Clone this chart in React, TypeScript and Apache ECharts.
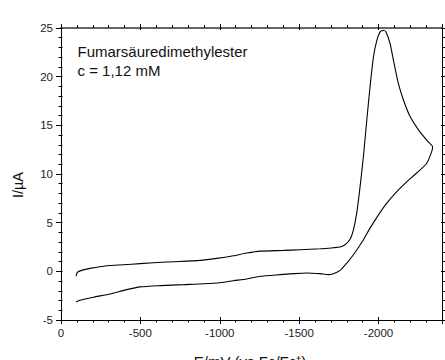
import React, { useEffect, useRef } from "react";
import * as echarts from "echarts";

// Potential (mV vs Fc/Fc+) and current (µA), cathodic scan then return scan
const forwardE = [-95, -103, -130, -183, -288, -393, -498, -666, -876, -981, -1086, -1170, -1254, -1400, -1506, -1632, -1716, -1758, -1789, -1821, -1842, -1863, -1884, -1905, -1926, -1947, -1968, -1989, -2010, -2031, -2047, -2073, -2094, -2125, -2157, -2199, -2262, -2314, -2341];
const forwardI = [-0.5, -0.1, 0.1, 0.3, 0.58, 0.68, 0.79, 0.96, 1.13, 1.33, 1.6, 1.88, 2.08, 2.15, 2.22, 2.32, 2.43, 2.5, 2.73, 3.3, 4.27, 6.0, 8.7, 11.8, 15.5, 19.0, 22.0, 23.7, 24.6, 24.77, 24.6, 23.4, 21.7, 19.3, 17.6, 15.9, 14.3, 13.3, 12.8];
const reverseE = [-2335, -2304, -2241, -2178, -2115, -2052, -2000, -1947, -1905, -1842, -1800, -1758, -1716, -1684, -1632, -1548, -1464, -1380, -1254, -1170, -1086, -981, -771, -624, -498, -414, -309, -204, -120, -95];
const reverseI = [12.3, 11.1, 10.1, 9.2, 8.2, 7.0, 5.8, 4.44, 3.25, 1.7, 0.85, 0.1, -0.24, -0.34, -0.24, -0.17, -0.24, -0.34, -0.51, -0.79, -0.96, -1.2, -1.37, -1.47, -1.6, -1.88, -2.32, -2.66, -2.97, -3.14];

const xMin = 0;
const xMax = 2400;
const xMajor = 500;
const xMinor = 100;
const yMin = -5;
const yMax = 25;
const yMajor = 5;
const yMinor = 1;

const FONT = "'Liberation Sans', Arial, sans-serif";

export default function App() {
  const ref = useRef<HTMLDivElement>(null);
  useEffect(() => {
    if (!ref.current) return;
    const chart = echarts.init(ref.current, undefined, { renderer: "svg" });
    const data: number[][] = [];
    forwardE.forEach((e, k) => data.push([-e, forwardI[k]]));
    reverseE.forEach((e, k) => data.push([-e, reverseI[k]]));

    const gridBox = { left: 61, right: 3, top: 28, bottom: 40 };

    const ax = (
      kind: "x" | "y",
      gridIndex: number,
      position: string,
      interval: number,
      tickLen: number,
      inside: boolean,
      line: any,
      label: any
    ) => ({
      type: "value",
      gridIndex,
      position,
      min: kind === "x" ? xMin : yMin,
      max: kind === "x" ? xMax : yMax,
      interval,
      splitLine: { show: false },
      axisLine: line
        ? { show: true, onZero: false, lineStyle: line }
        : { show: false, onZero: false },
      axisTick: { show: true, inside, length: tickLen, lineStyle: { color: "#000", width: 1 } },
      axisLabel: label || { show: false },
    });

    const xLabel = {
      margin: 7,
      color: "#222",
      fontSize: 11.5,
      fontFamily: FONT,
      formatter: (v: number) => (v % xMajor !== 0 ? "" : v === 0 ? "0" : String(-v)),
    };
    const yLabel = { margin: 8, color: "#222", fontSize: 11.5, fontFamily: FONT };

    chart.setOption({
      animation: false,
      grid: [gridBox, gridBox, gridBox],
      xAxis: [
        ax("x", 0, "bottom", xMajor, 4, false, { color: "#000", width: 1 }, xLabel),
        ax("x", 0, "top", xMajor, 4, false, { color: "#666", width: 2 }, null),
        ax("x", 1, "bottom", xMinor, 2.5, false, null, null),
        ax("x", 1, "top", xMinor, 3, false, null, null),
        ax("x", 2, "bottom", xMajor, 3, true, null, null),
        ax("x", 2, "top", xMajor, 2, true, null, null),
      ],
      yAxis: [
        ax("y", 0, "left", yMajor, 5, false, { color: "#000", width: 1 }, yLabel),
        ax("y", 0, "right", yMajor, 3, false, { color: "#000", width: 1 }, null),
        ax("y", 1, "left", yMinor, 2.5, false, null, null),
        ax("y", 1, "right", yMinor, 3, false, null, null),
        ax("y", 2, "left", yMinor, 1.5, true, null, null),
        ax("y", 2, "right", yMajor, 1, true, null, null),
      ],
      series: [
        {
          type: "line",
          xAxisIndex: 0,
          yAxisIndex: 0,
          data,
          smooth: 0.2,
          showSymbol: false,
          lineStyle: { color: "#000", width: 1.1 },
        },
      ],
      graphic: [
        {
          type: "text",
          left: 77.5,
          top: 44,
          style: { text: "Fumarsäuredimethylester", fontSize: 15, fontFamily: FONT, fill: "#111" },
        },
        {
          type: "text",
          left: 77.5,
          top: 63,
          style: { text: "c = 1,12 mM", fontSize: 15, fontFamily: FONT, fill: "#111" },
        },
        {
          type: "text",
          x: 18,
          y: 185,
          rotation: Math.PI / 2,
          style: {
            text: "I/µA",
            fontSize: 14.5,
            fontFamily: FONT,
            fill: "#111",
            align: "center",
            verticalAlign: "middle",
          },
        },
        {
          type: "text",
          x: 250,
          y: 354,
          style: {
            text: "E/mV (vs Fc/Fc⁺)",
            fontSize: 15,
            fontFamily: FONT,
            fill: "#111",
            align: "center",
            verticalAlign: "top",
          },
        },
      ],
    });
    return () => chart.dispose();
  }, []);
  return (
    <div
      ref={ref}
      style={{ position: "absolute", left: 0, top: 0, width: 445, height: 360, background: "#fff" }}
    />
  );
}
